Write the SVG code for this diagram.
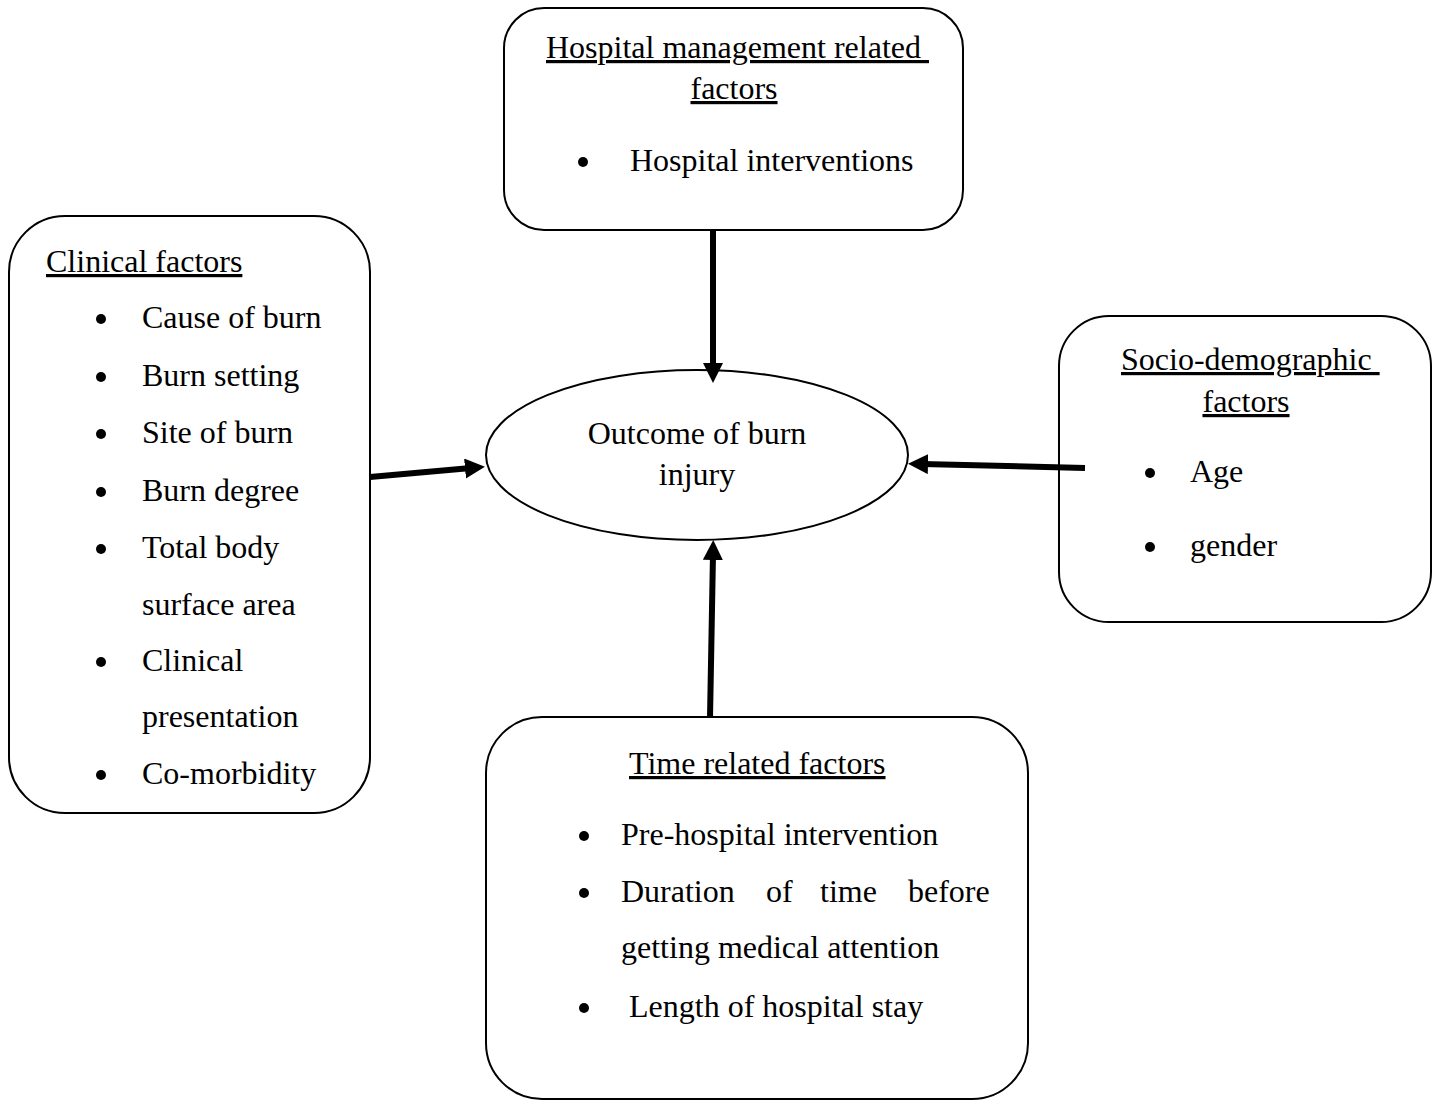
<svg xmlns="http://www.w3.org/2000/svg" width="1439" height="1101" viewBox="0 0 1439 1101">
<style>
.box{fill:#fff;stroke:#000;stroke-width:2}
text{font-family:"Liberation Serif","Times New Roman",serif;font-size:32px;fill:#000}
.u{text-decoration:underline}
.c{text-anchor:middle}
.dot{fill:#000}
.arr{stroke:#000;stroke-width:6;fill:none;marker-end:url(#ah)}
</style>
<defs>
<marker id="ah" markerUnits="userSpaceOnUse" markerWidth="22" markerHeight="22" refX="6" refY="10" orient="auto" viewBox="0 0 22 22">
<path d="M0,0 L20,10 L0,20 z" fill="#000"/>
</marker>
</defs>
<rect width="1439" height="1101" fill="#fff"/>
<g id="hospital">
<rect class="box" x="504" y="8" width="459" height="222" rx="40"/>
<text x="546" y="58" class="u" xml:space="preserve">Hospital management related </text>
<text x="734" y="99" class="u c">factors</text>
<circle class="dot" cx="583" cy="162" r="5"/>
<text x="630" y="171">Hospital interventions</text>
</g>
<g id="clinical">
<rect class="box" x="9" y="216" width="361" height="597" rx="56"/>
<text x="46" y="272" class="u">Clinical factors</text>
<circle class="dot" cx="101" cy="319" r="5"/><text x="142" y="328">Cause of burn</text>
<circle class="dot" cx="101" cy="377" r="5"/><text x="142" y="386">Burn setting</text>
<circle class="dot" cx="101" cy="434" r="5"/><text x="142" y="443">Site of burn</text>
<circle class="dot" cx="101" cy="492" r="5"/><text x="142" y="501">Burn degree</text>
<circle class="dot" cx="101" cy="549" r="5"/><text x="142" y="558">Total body</text>
<text x="142" y="615">surface area</text>
<circle class="dot" cx="101" cy="662" r="5"/><text x="142" y="671">Clinical</text>
<text x="142" y="727">presentation</text>
<circle class="dot" cx="101" cy="775" r="5"/><text x="142" y="784">Co-morbidity</text>
</g>
<g id="socio">
<rect class="box" x="1059" y="316" width="372" height="306" rx="50"/>
<text x="1121" y="370" class="u" xml:space="preserve">Socio-demographic </text>
<text x="1246" y="412" class="u c">factors</text>
<circle class="dot" cx="1150" cy="473" r="5"/><text x="1190" y="482">Age</text>
<circle class="dot" cx="1150" cy="547" r="5"/><text x="1190" y="556">gender</text>
</g>
<g id="time">
<rect class="box" x="486" y="717" width="542" height="382" rx="56"/>
<text x="629" y="774" class="u">Time related factors</text>
<circle class="dot" cx="584" cy="836" r="5"/><text x="621" y="845">Pre-hospital intervention</text>
<circle class="dot" cx="584" cy="893" r="5"/><text y="902"><tspan x="621">Duration</tspan><tspan x="766">of</tspan><tspan x="820">time</tspan><tspan x="908">before</tspan></text>
<text x="621" y="958">getting medical attention</text>
<circle class="dot" cx="584" cy="1008" r="5"/><text x="621" y="1017" xml:space="preserve"> Length of hospital stay</text>
</g>
<g id="outcome">
<ellipse class="box" cx="697" cy="455" rx="211" ry="85"/>
<text x="697" y="444" class="c">Outcome of burn</text>
<text x="697" y="485" class="c">injury</text>
</g>
<g id="connectors">
<line class="arr" x1="370" y1="477" x2="471" y2="468"/>
<line class="arr" x1="713" y1="231" x2="713" y2="369"/>
<line class="arr" x1="1085" y1="468" x2="922" y2="464"/>
<line class="arr" x1="710" y1="718" x2="713" y2="554"/>
</g>
</svg>
